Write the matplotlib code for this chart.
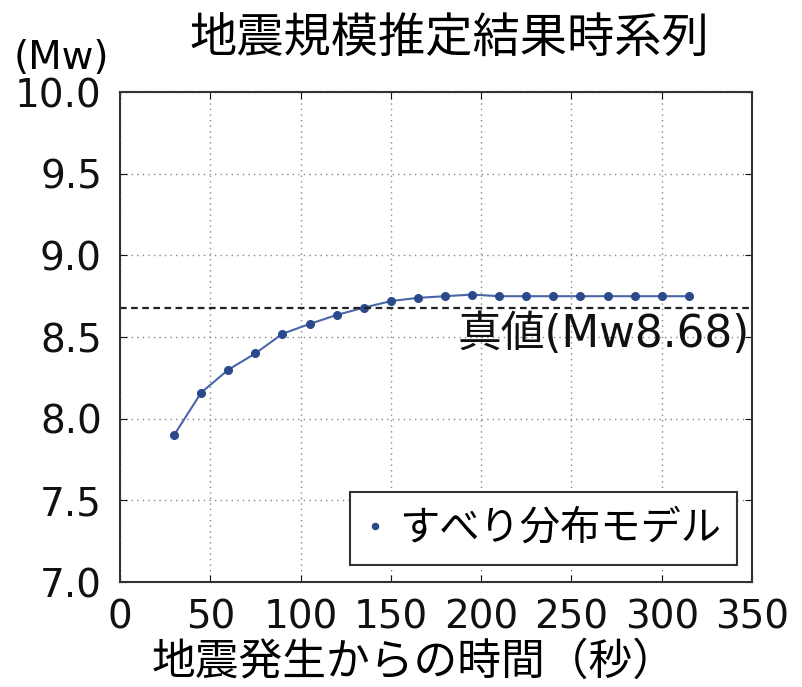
import matplotlib
matplotlib.use("Agg")
import matplotlib.pyplot as plt

plt.rcParams['font.family'] = ['Noto Sans CJK JP', 'DejaVu Sans']
LATIN_FIRST = ['DejaVu Sans', 'Noto Sans CJK JP']

# elapsed time since origin (s) and estimated moment magnitude
elapsed = [30, 45, 60, 75, 90, 105, 120, 135, 150, 165,
           180, 195, 210, 225, 240, 255, 270, 285, 300, 315]
mw_est = [7.90, 8.16, 8.30, 8.40, 8.52, 8.58, 8.635, 8.68, 8.72, 8.74,
          8.75, 8.76, 8.75, 8.75, 8.75, 8.75, 8.75, 8.75, 8.75, 8.75]
mw_true = 8.68

x_ticks = [0, 50, 100, 150, 200, 250, 300, 350]
y_ticks = [7.0, 7.5, 8.0, 8.5, 9.0, 9.5, 10.0]

fig = plt.figure(figsize=(8.03, 6.87), dpi=100)
ax = fig.add_axes([0.1494, 0.1528, 0.7871, 0.7132])

ax.plot(elapsed, mw_est, color="#4a66a8", linewidth=1.5, marker="o",
        markersize=5.5, markerfacecolor="#2a4a8c", markeredgecolor="#2a4a8c",
        label="すべり分布モデル")
ax.axhline(mw_true, color="#222222", linestyle="--", linewidth=1.6, dashes=(3, 2))
ax.text(349, mw_true - 0.035, f"真値(Mw{mw_true:.2f})", ha="right", va="top",
        fontsize=31.5, color="#111111", family=LATIN_FIRST)

ax.set_xlim(0, 350)
ax.set_ylim(7.0, 10.0)
ax.set_xticks(x_ticks)
ax.set_yticks(y_ticks)
ax.set_xticklabels([str(v) for v in x_ticks], family=LATIN_FIRST, fontsize=28)
ax.set_yticklabels([f"{v:.1f}" for v in y_ticks], family=LATIN_FIRST, fontsize=28)
ax.tick_params(axis="both", direction="in", length=5,
               top=True, right=True, colors="#111111")
ax.tick_params(axis="y", pad=13)
ax.tick_params(axis="x", pad=12)
ax.grid(True, linestyle=(0, (1, 3)), color="#888888", linewidth=1)
for s in ax.spines.values():
    s.set_color("#333333")
    s.set_linewidth(1.5)

fig.text(0.516, 0.036, "地震発生からの時間（秒）", ha="center", va="center", fontsize=31.5)
fig.text(0.56, 0.942, "地震規模推定結果時系列", ha="center", va="center", fontsize=34)
fig.text(0.077, 0.916, "(Mw)", ha="center", va="center", fontsize=28,
         family=LATIN_FIRST)

leg = ax.legend(loc="lower right", bbox_to_anchor=(0.976, 0.035), fontsize=29,
                borderaxespad=0, markerscale=0.8, handlelength=0.4,
                handletextpad=0.4, fancybox=False, framealpha=1, borderpad=0.4)
leg.get_frame().set_edgecolor("#333333")
leg.get_frame().set_linewidth(1.5)
for h in leg.get_lines():
    h.set_linestyle("none")

fig.savefig("out.png", dpi=100)
